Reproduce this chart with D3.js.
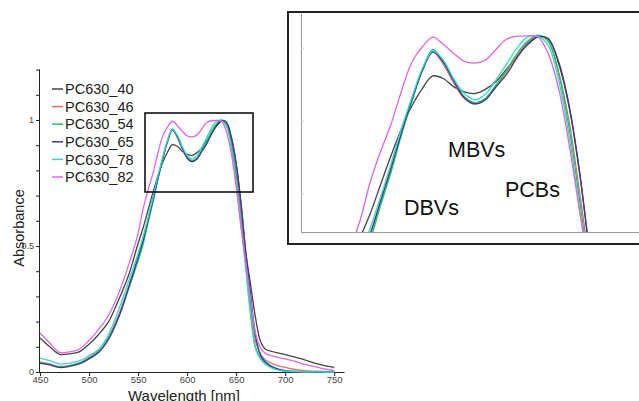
<!DOCTYPE html>
<html>
<head>
<meta charset="utf-8">
<script src="https://d3js.org/d3.v7.min.js"></script>
<style>
  body { margin: 0; background: #fff; }
  svg { display: block; font-family: "Liberation Sans", Arial, sans-serif; }
</style>
</head>
<body>
<script>
// Spectra data (normalised absorbance)
var wavelengths = [450,460,470,480,490,500,510,520,530,540,550,
  555,560,565,570,575,580,585,590,595,600,605,610,615,620,625,630,635,640,645,650,655,660,665,670,675,680,
  690,700,710,720,730,740,750];

var pc630_40 = [.135,.1,.07,.072,.08,.11,.15,.2,.285,.38,.51,
  .57,.64,.71,.775,.83,.872,.902,.896,.876,.864,.86,.87,.888,.918,.948,.976,.995,.99,.935,.83,.67,.47,.34,.21,.12,.09,
  .078,.069,.059,.048,.035,.025,.018];
var pc630_46 = [.04,.032,.022,.026,.036,.058,.085,.14,.225,.335,.455,
  .52,.6,.68,.765,.845,.915,.96,.93,.885,.848,.835,.845,.878,.912,.95,.982,.998,.985,.91,.79,.62,.44,.26,.12,.07,.048,
  .028,.018,.01,.005,.003,.002,.001];
var pc630_54 = [.037,.03,.02,.024,.034,.055,.08,.135,.215,.325,.44,
  .505,.59,.67,.76,.84,.915,.965,.935,.89,.852,.838,.848,.88,.915,.955,.985,1,.985,.905,.775,.6,.42,.23,.095,.055,.035,
  .012,.003,.002,.001,.001,0,0];
var pc630_65 = [.034,.028,.018,.022,.032,.052,.078,.13,.215,.33,.455,
  .52,.6,.68,.765,.845,.915,.96,.935,.89,.85,.835,.845,.875,.905,.945,.978,.996,.992,.93,.825,.665,.47,.3,.14,.065,.04,
  .015,.005,.002,.001,0,0,0];
var pc630_78 = [.055,.045,.032,.035,.044,.065,.09,.15,.245,.355,.47,
  .535,.61,.69,.775,.85,.92,.962,.94,.895,.86,.845,.858,.892,.93,.968,.995,.997,.975,.89,.755,.58,.4,.215,.09,.05,.03,
  .01,.003,.002,.001,.001,0,0];
var pc630_82 = [.155,.115,.078,.08,.09,.125,.17,.225,.31,.42,.55,
  .645,.72,.785,.865,.935,.972,.995,.978,.956,.937,.933,.94,.965,.99,.997,.998,.996,.955,.87,.735,.575,.43,.28,.15,.095,.074,
  .06,.052,.042,.03,.021,.012,.006];

var seriesNames = ["PC630_40","PC630_46","PC630_54","PC630_65","PC630_78","PC630_82"];
var seriesValues = [pc630_40, pc630_46, pc630_54, pc630_65, pc630_78, pc630_82];
var seriesColors = ["#444444","#e06a6a","#22c455","#3c3c8c","#33d6d6","#e066e0"];

var xTickValues = [450,500,550,600,650,700,750];
var yTickValues = [0,0.1,0.2,0.3,0.4,0.5,0.6,0.7,0.8,0.9,1,1.1,1.2];
var yLabelled = [0,0.5,1];
var insetTickValues = [0.62,0.795,0.97];

var labels = [
  {text: "MBVs", x: 448, y: 157},
  {text: "PCBs", x: 505, y: 197},
  {text: "DBVs", x: 404, y: 215}
];

var svgWidth = 639;
var svgHeight = 401;

var svg = d3.select("body")
  .append("svg")
  .attr("width", svgWidth)
  .attr("height", svgHeight);

// Main chart scales
var xScale = d3.scaleLinear().domain([450, 760]).range([40, 344]);
var yScale = d3.scaleLinear().domain([0, 1.2]).range([372, 69.6]);

var data = seriesValues.map(function(vals, i) {
  return {
    name: seriesNames[i],
    color: seriesColors[i],
    points: wavelengths.map(function(w, j) { return {w: w, v: vals[j]}; })
  };
});

// axes
var leftAxis = d3.axisLeft(yScale)
  .tickValues(yTickValues)
  .tickSize(4)
  .tickFormat(function(d) { return yLabelled.indexOf(d) >= 0 ? d3.format("")(d) : ""; });

var bottomAxis = d3.axisBottom(xScale)
  .tickValues(xTickValues)
  .tickSize(4)
  .tickSizeOuter(0);

var gy = svg.append("g").attr("transform", "translate(40,0)").call(leftAxis);
gy.select(".domain").attr("d", "M-0.5," + yScale(1.2) + "V" + yScale(0)).attr("stroke", "#222");
gy.selectAll("text").attr("font-size", 9).attr("fill", "#444").attr("x", -6);
gy.selectAll("line").attr("stroke", "#222");

var gx = svg.append("g").attr("transform", "translate(0,372)").call(bottomAxis);
gx.select(".domain").attr("stroke", "#222");
gx.selectAll("text").attr("font-size", 9.5).attr("fill", "#444").attr("dy", "0.45em");
gx.selectAll("line").attr("stroke", "#222");

svg.append("text")
  .attr("x", 184).attr("y", 401)
  .attr("text-anchor", "middle")
  .attr("font-size", 15).attr("fill", "#222")
  .text("Wavelength [nm]");

svg.append("text")
  .attr("transform", "translate(24,228) rotate(-90)")
  .attr("text-anchor", "middle")
  .attr("font-size", 14.5).attr("fill", "#222")
  .text("Absorbance");

var line = d3.line()
  .x(function(d) { return xScale(d.w); })
  .y(function(d) { return yScale(d.v); })
  .curve(d3.curveCatmullRom.alpha(0.5));

svg.append("g").selectAll("path")
  .data(data)
  .enter()
  .append("path")
  .attr("d", function(d) { return line(d.points); })
  .attr("fill", "none")
  .attr("stroke", function(d) { return d.color; })
  .attr("stroke-width", 1.3);

// legend
var legend = svg.append("g").selectAll("g")
  .data(data)
  .enter()
  .append("g")
  .attr("transform", function(d, i) { return "translate(52," + (89 + i * 17.6) + ")"; });

legend.append("line")
  .attr("x1", 0).attr("x2", 11)
  .attr("stroke", function(d) { return d.color; })
  .attr("stroke-width", 1.5);

legend.append("text")
  .attr("x", 13).attr("dy", "0.36em")
  .attr("font-size", 14.5).attr("fill", "#222")
  .text(function(d) { return d.name; });

// zoom box on main chart
svg.append("rect")
  .attr("x", 145).attr("y", 113)
  .attr("width", 108).attr("height", 79)
  .attr("fill", "none")
  .attr("stroke", "#111")
  .attr("stroke-width", 1.6);

// Inset
var ix = d3.scaleLinear().domain([522.2, 683.2]).range([301, 639]);
var iy = d3.scaleLinear().domain([0.528, 1.053]).range([232, 13]);

svg.append("rect")
  .attr("x", 288).attr("y", 12)
  .attr("width", 360).attr("height", 232)
  .attr("fill", "#fff")
  .attr("stroke", "#222")
  .attr("stroke-width", 2);

svg.append("defs").append("clipPath").attr("id", "insetClip")
  .append("rect").attr("x", 301).attr("y", 13).attr("width", 340).attr("height", 219);

var insetLine = d3.line()
  .x(function(d) { return ix(d.w); })
  .y(function(d) { return iy(d.v); })
  .curve(d3.curveCatmullRom.alpha(0.5));

svg.append("g").attr("clip-path", "url(#insetClip)")
  .selectAll("path")
  .data(data)
  .enter()
  .append("path")
  .attr("d", function(d) { return insetLine(d.points); })
  .attr("fill", "none")
  .attr("stroke", function(d) { return d.color; })
  .attr("stroke-width", 1.3);

var insetAxis = d3.axisLeft(iy).tickValues(insetTickValues).tickSize(3).tickFormat("");
var ga = svg.append("g").attr("transform", "translate(301,0)").call(insetAxis);
ga.select(".domain").attr("d", "M0.5,14V232").attr("stroke", "#999");
ga.selectAll("line").attr("stroke", "#ccc").attr("x2", 3);

svg.append("line")
  .attr("x1", 301).attr("x2", 639)
  .attr("y1", 232.5).attr("y2", 232.5)
  .attr("stroke", "#999");

svg.append("g").selectAll("text")
  .data(labels)
  .enter()
  .append("text")
  .attr("x", function(d) { return d.x; })
  .attr("y", function(d) { return d.y; })
  .attr("font-size", 21.5)
  .attr("fill", "#111")
  .text(function(d) { return d.text; });
</script>
</body>
</html>
